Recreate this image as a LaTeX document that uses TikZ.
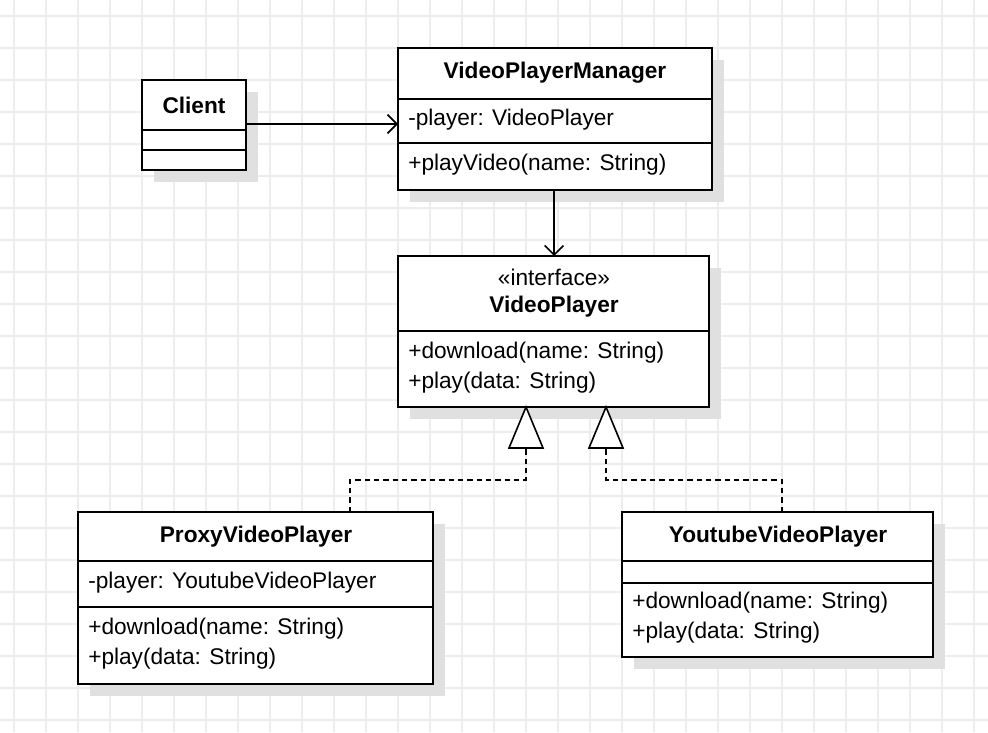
\documentclass[tikz,border=0pt]{standalone}
\usepackage{fontspec}
\setmainfont{Liberation Sans}
\usetikzlibrary{arrows.meta}
\begin{document}
\begin{tikzpicture}[x=0.75pt,y=-0.75pt,
  box/.style={draw=black,line width=1.5pt,fill=white},
  shadow/.style={fill=black!12,draw=none},
  txt/.style={font=\fontsize{17}{20}\selectfont,inner sep=0pt},
  ttl/.style={font=\fontsize{17}{20}\selectfont\bfseries,inner sep=0pt},
  dv/.style={line width=1.2pt},
  arr/.style={line width=1.2pt,-{Straight Barb[length=7pt,width=14pt]}},
  real/.style={line width=1.2pt,dashed,dash pattern=on 4pt off 3pt}]
\useasboundingbox (0,0) rectangle (988,732);
\fill[white] (0,0) rectangle (988,732);
\foreach \x in {14,46,...,988} \draw[black!7,line width=1.2pt] (\x,0) -- (\x,732);
\foreach \y in {16,48,...,732} \draw[black!7,line width=1.2pt] (0,\y) -- (988,\y);
% shadows
\fill[shadow] (154,92) rectangle (258,182);
\fill[shadow] (410,60) rectangle (724,202);
\fill[shadow] (410,268) rectangle (721,419);
\fill[shadow] (90,524) rectangle (445,696);
\fill[shadow] (634,524) rectangle (945,669);
% Client
\draw[box] (142,80) rectangle (246,170);
\draw[dv] (142,130) -- (246,130); \draw[dv] (142,150) -- (246,150);
\node[ttl] (client) at (194,105) {Client};
\coordinate (cR) at (246,124);
% VPM
\draw[box] (398,48) rectangle (712,190);
\draw[dv] (398,99) -- (712,99); \draw[dv] (398,143) -- (712,143);
\node[ttl] (vpm) at (555,73) {VideoPlayerManager};
\node[txt,anchor=west] (vpmA) at (408,120) {-player: VideoPlayer};
\node[txt,anchor=west] (vpmM) at (408,165) {+playVideo(name: String)};
\coordinate (vpmL) at (398,124);
\coordinate (vpmB) at (554,190);
% VideoPlayer
\draw[box] (398,256) rectangle (709,407);
\draw[dv] (398,331) -- (709,331);
\node[txt] (vpst) at (554,277) {«interface»};
\node[ttl] (vp) at (554,307) {VideoPlayer};
\node[txt,anchor=west] (vp1) at (408,353) {+download(name: String)};
\node[txt,anchor=west] (vp2) at (408,383) {+play(data: String)};
\coordinate (vpT) at (554,256);
% Proxy
\draw[box] (78,512) rectangle (433,684);
\draw[dv] (78,561) -- (433,561); \draw[dv] (78,607) -- (433,607);
\node[ttl] (proxy) at (256,537) {ProxyVideoPlayer};
\node[txt,anchor=west] (px1) at (88,583) {-player: YoutubeVideoPlayer};
\node[txt,anchor=west] (px2) at (88,629) {+download(name: String)};
\node[txt,anchor=west] (px3) at (88,659) {+play(data: String)};
% Youtube
\draw[box] (622,512) rectangle (933,657);
\draw[dv] (622,561) -- (933,561); \draw[dv] (622,583) -- (933,583);
\node[ttl] (yt) at (778,537) {YoutubeVideoPlayer};
\node[txt,anchor=west] (yt1) at (632,603) {+download(name: String)};
\node[txt,anchor=west] (yt2) at (632,633) {+play(data: String)};
% connectors
\draw[arr] (cR) -- (vpmL);
\draw[arr] (vpmB) -- (vpT);
\coordinate (pT) at (350,512); \coordinate (yT) at (782,512);
\draw[real] (pT) -- (350,480) -- (526,480) -- (526,448);
\draw[real] (yT) -- (782,480) -- (606,480) -- (606,448);
\draw[line width=1.2pt,fill=white] (526,407) -- (543,448) -- (509,448) -- cycle;
\draw[line width=1.2pt,fill=white] (606,407) -- (623,448) -- (589,448) -- cycle;
\end{tikzpicture}
\end{document}
